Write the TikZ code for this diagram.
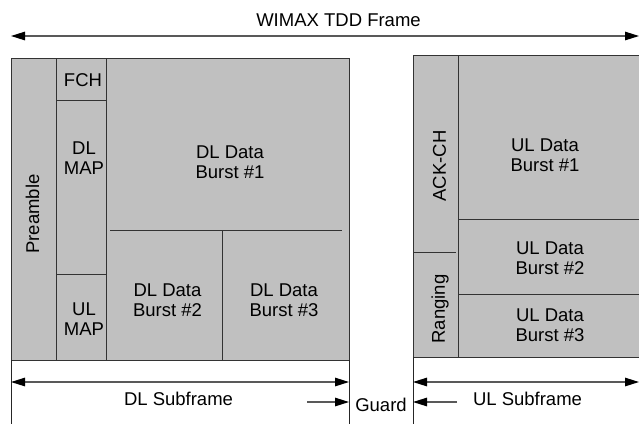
\documentclass[tikz,border=0pt]{standalone}
\usepackage{fontspec}
\setmainfont{Liberation Sans}
\usetikzlibrary{arrows.meta}
\definecolor{boxgray}{HTML}{C0C0C0}
\definecolor{edgegray}{HTML}{333333}
\begin{document}
\begin{tikzpicture}[x=1pt,y=-1pt,
  blk/.style={draw=edgegray, fill=boxgray, line width=1pt},
  sep/.style={draw=edgegray, line width=1pt},
  lbl/.style={font=\fontsize{18.5}{20.5}\selectfont, align=center, text=black, inner sep=0pt},
  arr/.style={line width=1.3pt, draw=black!65, -{Triangle[length=14pt,width=8.5pt,color=black,fill=black]}},
  darr/.style={line width=1.3pt, draw=black!65, {Triangle[length=14pt,width=8.5pt,color=black,fill=black]}-{Triangle[length=14pt,width=8.5pt,color=black,fill=black]}},
  vline/.style={draw=black!85, line width=0.9pt}
]
\useasboundingbox (0,0) rectangle (639,424);

% ---------- DL subframe blocks ----------
\draw[blk] (11,58) rectangle (349,360);
\draw[sep] (56,58) -- (56,360);
\draw[sep] (106,58) -- (106,360);
\draw[sep] (56,100) -- (106,100);
\draw[sep] (56,274) -- (106,274);
\draw[sep] (110,230) -- (342,230);
\draw[sep] (222,230) -- (222,360);

% ---------- UL subframe blocks ----------
\draw[blk] (413,55) rectangle (641,357);
\draw[sep] (458,55) -- (458,357);
\draw[sep] (413,252) -- (456,252);
\draw[sep] (458,219) -- (641,219);
\draw[sep] (458,294) -- (641,294);

% ---------- labels in blocks ----------
\node[lbl, rotate=90] (pre) at (32.5,214) {Preamble};
\node[lbl] (fch) at (83,80.5) {FCH};
\node[lbl] (dlmap) at (84,158) {DL\\MAP};
\node[lbl] (ulmap) at (84,319) {UL\\MAP};
\node[lbl] (dl1) at (230,162) {DL Data\\Burst \#1};
\node[lbl] (dl2) at (167.5,300) {DL Data\\Burst \#2};
\node[lbl] (dl3) at (284,300) {DL Data\\Burst \#3};
\node[lbl, rotate=90] (ack) at (439.5,166) {ACK-CH};
\node[lbl, rotate=90] (rng) at (440,309) {Ranging};
\node[lbl] (ul1) at (545,155) {UL Data\\Burst \#1};
\node[lbl] (ul2) at (550,258) {UL Data\\Burst \#2};
\node[lbl] (ul3) at (550,325) {UL Data\\Burst \#3};

% ---------- frame arrow ----------
\node[lbl] (frame) at (338.5,20) {WIMAX TDD Frame};
\coordinate (fL) at (11,36);
\coordinate (fR) at (639,36);
\draw[darr] (fL) -- (fR);

% ---------- subframe boundaries ----------
\coordinate (dlTopL) at (11,360);
\coordinate (dlBotL) at (11,424);
\coordinate (dlTopR) at (349,360);
\coordinate (dlBotR) at (349,424);
\coordinate (ulTop) at (413,357);
\coordinate (ulBot) at (413,424);
\draw[vline] (dlTopL) -- (dlBotL);
\draw[vline] (dlTopR) -- (dlBotR);
\draw[vline] (ulTop) -- (ulBot);

% ---------- subframe arrows ----------
\coordinate (dlaL) at (11,382);
\coordinate (dlaR) at (349,382);
\draw[darr] (dlaL) -- (dlaR);
\node[lbl] (dlsub) at (178.5,398.5) {DL Subframe};

\coordinate (ulaL) at (413,382);
\coordinate (ulaR) at (639,382);
\draw[darr] (ulaL) -- (ulaR);
\node[lbl] (ulsub) at (527.5,399) {UL Subframe};

% ---------- guard ----------
\node[lbl] (guard) at (381,405) {Guard};
\coordinate (g1s) at (307,402);
\coordinate (g1e) at (349,402);
\coordinate (g2s) at (457,402);
\coordinate (g2e) at (413,402);
\draw[arr] (g1s) -- (g1e);
\draw[arr] (g2s) -- (g2e);
\end{tikzpicture}
\end{document}
